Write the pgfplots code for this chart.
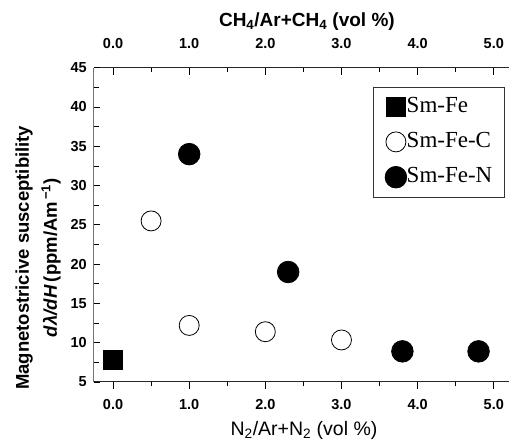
\documentclass[border=0pt]{standalone}
\usepackage{fontspec}
\setmainfont{Liberation Serif}
\newfontfamily\arial{Liberation Sans}
\usepackage{pgfplots}
\pgfplotsset{compat=1.18}

\pgfplotsset{
  base/.style={
    scale only axis, width=415pt, height=314.3pt,
    xmin=-0.25, xmax=5.2, ymin=5, ymax=45,
    axis line style={-, line width=1pt, black!85},
    every tick/.style={black, line width=0.8pt},
    tick label style={font=\fontsize{14.5}{14.5}\selectfont\arial\bfseries},
    /pgf/number format/assume math mode=true,
    xtick={0,1,2,3,4,5}, minor x tick num=1,
    xticklabels={0.0,1.0,2.0,3.0,4.0,5.0},
    major tick length=7pt, minor tick length=4pt,
  },
}

\begin{document}
\begin{tikzpicture}
% bottom x axis (N2)
\begin{axis}[base, hide y axis, axis x line*=bottom, tick align=outside,
  xticklabel style={anchor=center, yshift=-16pt},
  xlabel={N\textsubscript{2}/Ar+N\textsubscript{2} (vol \%)},
  xlabel style={font=\fontsize{19.5}{19.5}\selectfont\arial,
    at={(axis description cs:0.506,0)}, anchor=center, yshift=-48pt}]
\end{axis}
% top x axis (CH4)
\begin{axis}[base, hide y axis, axis x line*=top, tick align=inside,
  xticklabel style={anchor=center, yshift=24pt},
  xlabel={CH\textsubscript{4}/Ar+CH\textsubscript{4} (vol \%)},
  xlabel style={font=\fontsize{19}{19}\selectfont\arial\bfseries,
    at={(axis description cs:0.513,1)}, anchor=center, yshift=46pt}]
\end{axis}
% y axis and data
\begin{axis}[base, hide x axis, axis y line*=left, tick align=inside,
  y axis line style={black!55},
  ytick={5,10,...,45}, minor y tick num=1,
  major tick length=6pt, minor tick length=5pt,
  yticklabel style={anchor=east, inner xsep=0pt, xshift=-7pt},
  ylabel={Magnetostricive susceptibility\\\textit{d\kern0.5pt λ/dH}\,(ppm/Am\textsuperscript{\,−1})},
  ylabel style={font=\fontsize{18.5}{28}\selectfont\arial\bfseries, align=center,
    at={(axis description cs:-0.135,0.395)}, anchor=center},
  clip=false,
  legend cell align=left,
  legend image code/.code={\draw[#1] plot coordinates {(11pt,0pt)};},
  legend style={at={(axis description cs:0.6716,0.9386)}, anchor=north west,
    draw=black!80, line width=0.8pt, inner xsep=12pt, inner ysep=9pt,
    font=\fontsize{23}{23}\selectfont, row sep=14pt,
    nodes={inner xsep=0pt, inner ysep=0pt, text height=16pt, text depth=5pt},
    /tikz/every even column/.append style={column sep=0pt}},
]
\addplot[only marks, mark=square*, mark size=9.5pt, black, line width=0.8pt]
  coordinates {(0,7.8)};
\addlegendentry{Sm-Fe}
\addplot[only marks, mark=*, mark size=10pt, black, fill=white, line width=0.8pt]
  coordinates {(0.5,25.5) (1,12.2) (2,11.4) (3,10.35)};
\addlegendentry{Sm-Fe-C}
\addplot[only marks, mark=*, mark size=10.8pt, black, fill=black, line width=0.8pt]
  coordinates {(1,34) (2.3,19) (3.8,8.9) (4.8,8.9)};
\addlegendentry{Sm-Fe-N}
\end{axis}
\pgfresetboundingbox
\path (-94pt,-62pt) rectangle (415pt,382pt);
\end{tikzpicture}
\end{document}
